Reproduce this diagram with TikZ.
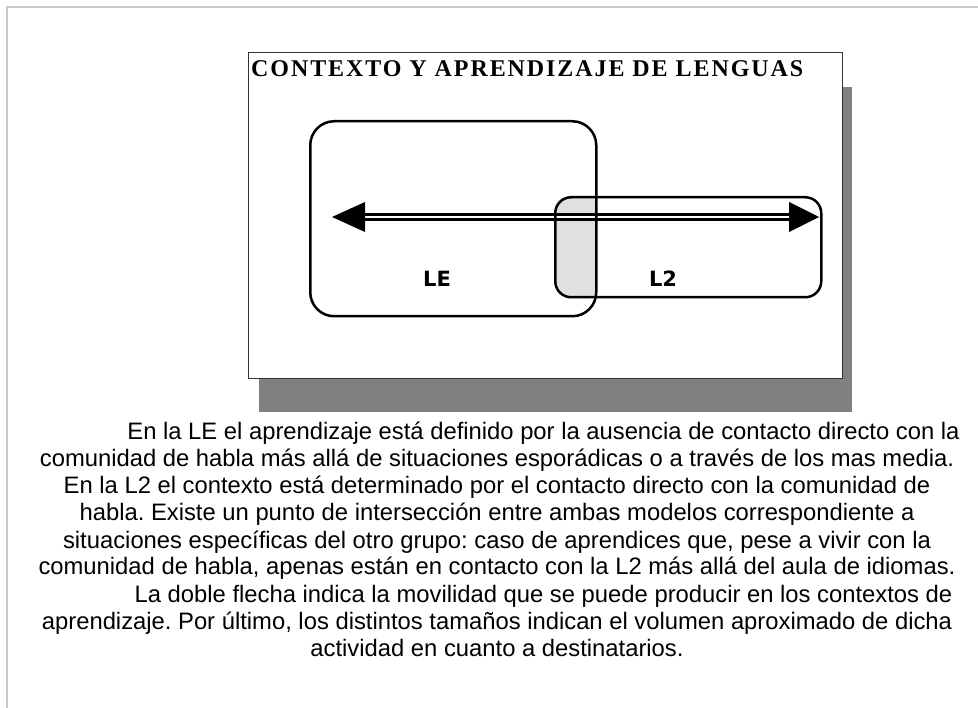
\documentclass[tikz,border=0pt]{standalone}
\usepackage{fontspec}
\setmainfont{Liberation Sans}
\newfontfamily\titlefont[LetterSpace=8]{Liberation Serif}
\newfontfamily\labelfont{DejaVu Sans}
\usetikzlibrary{calc}
\definecolor{framegray}{HTML}{C8C8C8}
\definecolor{shadowgray}{HTML}{808080}
\definecolor{intergray}{HTML}{E0E0E0}
\frenchspacing
\begin{document}
\frenchspacing
\begin{tikzpicture}[x=1pt,y=-1pt,
  ctxbox/.style={draw=black, line width=2.5pt, inner sep=0pt, anchor=north west},
  paraline/.style={font=\fontsize{23.8}{27}\selectfont, anchor=base, inner sep=0pt},
  ctxlabel/.style={font=\labelfont\bfseries\fontsize{21}{24}\selectfont, inner sep=0pt, anchor=base},
  dblshaft/.style={line width=3.2pt, double=white, double distance=2.5pt}
]
\useasboundingbox (0,0) rectangle (978,708);
\fill[white] (0,0) rectangle (978,708);
% outer page frame
\draw[framegray, line width=1.5pt] (7,708) -- (7,7) -- (978,7);
% shadow and panel
\fill[shadowgray] (259,87) rectangle (852,412);
\node[draw=black!80, line width=1.2pt, fill=white, minimum width=594pt, minimum height=326pt,
      anchor=north west, inner sep=0pt] (panel) at (248,52) {};
\node[anchor=base west, inner sep=0pt, font=\titlefont\bfseries\fontsize{24}{28}\selectfont]
      (title) at (251,77) {CONTEXTO Y APRENDIZAJE DE LENGUAS};
% intersection shading
\begin{scope}
  \clip (309,120) rectangle (595,315);
  \fill[intergray, rounded corners=16pt] (554,196) rectangle (820,296);
\end{scope}
% double arrow
\coordinate (al) at (332,217);
\coordinate (ar) at (819,217);
\draw[dblshaft] ($(al)+(30,0)$) -- ($(ar)+(-28,0)$);
\fill (al) -- ($(al)+(33,-15)$) -- ($(al)+(33,15)$) -- cycle;
\fill (ar) -- ($(ar)+(-30,-15)$) -- ($(ar)+(-30,15)$) -- cycle;
% context boxes
\node[ctxbox, rounded corners=24pt, minimum width=286pt, minimum height=195pt] (le) at (309,120) {};
\node[ctxbox, rounded corners=16pt, minimum width=266pt, minimum height=100pt] (l2) at (554,196) {};
\node[ctxlabel] (lelab) at (437,287) {LE};
\node[ctxlabel] (l2lab) at (663,287) {L2};
% paragraph
\node[paraline] (p1) at (497,440) {\hspace*{93pt}En la LE el aprendizaje está definido por la ausencia de contacto directo con la};
\node[paraline] (p2) at (497,467) {comunidad de habla más allá de situaciones esporádicas o a través de los mas media.};
\node[paraline] (p3) at (497,494) {En la L2 el contexto está determinado por el contacto directo con la comunidad de};
\node[paraline] (p4) at (497,521) {habla. Existe un punto de intersección entre ambas modelos correspondiente a};
\node[paraline] (p5) at (497,548) {situaciones específicas del otro grupo: caso de aprendices que, pese a vivir con la};
\node[paraline] (p6) at (497,575) {comunidad de habla, apenas están en contacto con la L2 más allá del aula de idiomas.};
\node[paraline] (p7) at (497,602) {\hspace*{93pt}La doble flecha indica la movilidad que se puede producir en los contextos de};
\node[paraline] (p8) at (497,629) {aprendizaje. Por último, los distintos tamaños indican el volumen aproximado de dicha};
\node[paraline] (p9) at (497,656) {actividad en cuanto a destinatarios.};
\end{tikzpicture}
\end{document}
